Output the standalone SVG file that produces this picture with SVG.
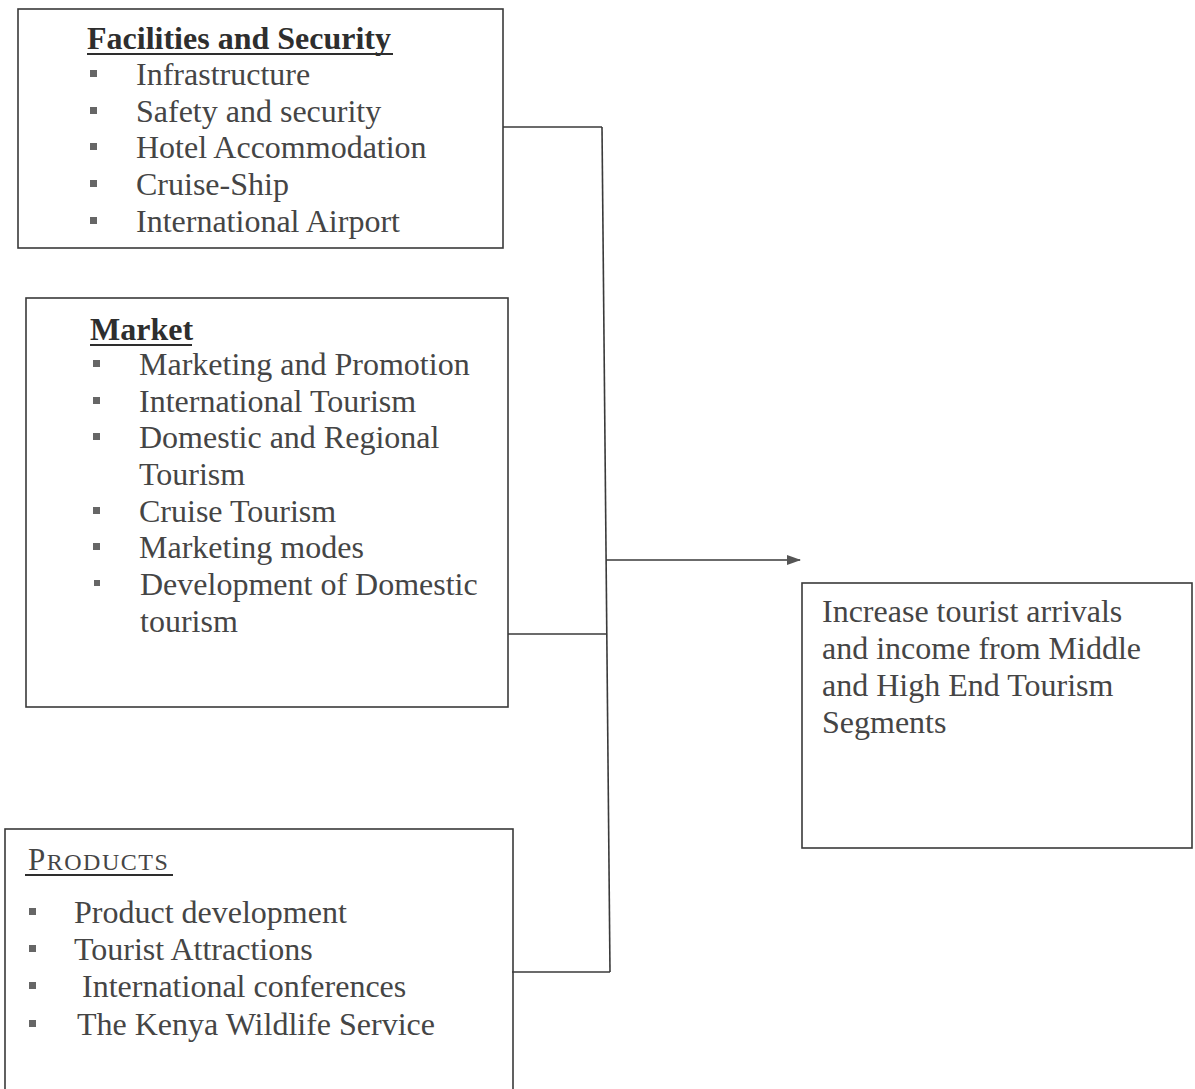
<svg xmlns="http://www.w3.org/2000/svg" width="1195" height="1089" viewBox="0 0 1195 1089">
<defs>
<style>
.box{fill:none;stroke:#3a3a3a;stroke-width:1.6}
.con{fill:none;stroke:#3a3a3a;stroke-width:1.6}
.hd{font-family:"Liberation Serif","Times New Roman",serif;font-size:32px;font-weight:bold;fill:#2e2e2e}
.tx{font-family:"Liberation Serif","Times New Roman",serif;font-size:32px;fill:#454545}
.ul{stroke:#2e2e2e;stroke-width:2}
.bl{fill:#666}
</style>
<marker id="arr" markerWidth="14" markerHeight="10" refX="13" refY="5" orient="auto" markerUnits="userSpaceOnUse">
<path d="M0,0 L14,5 L0,10 Z" fill="#555"/>
</marker>
</defs>
<rect width="1195" height="1089" fill="#ffffff"/>

<g id="connectors">
<line class="con" x1="503" y1="127" x2="602" y2="127"/>
<line class="con" x1="602" y1="127" x2="610" y2="972"/>
<line class="con" x1="508" y1="634" x2="606" y2="634"/>
<line class="con" x1="512" y1="972" x2="610" y2="972"/>
<line class="con" x1="606" y1="560" x2="800" y2="560" marker-end="url(#arr)"/>
</g>

<g id="facilities">
<rect class="box" x="18" y="9" width="485" height="239"/>
<text class="hd" x="87" y="49">Facilities and Security</text>
<line class="ul" x1="87" y1="54" x2="393" y2="54"/>
<rect class="bl" x="90" y="70" width="7" height="7"/>
<text class="tx" x="136" y="85">Infrastructure</text>
<rect class="bl" x="90" y="107" width="7" height="7"/>
<text class="tx" x="136" y="122">Safety and security</text>
<rect class="bl" x="90" y="143" width="7" height="7"/>
<text class="tx" x="136" y="158">Hotel Accommodation</text>
<rect class="bl" x="90" y="180" width="7" height="7"/>
<text class="tx" x="136" y="195">Cruise-Ship</text>
<rect class="bl" x="90" y="217" width="7" height="7"/>
<text class="tx" x="136" y="232">International Airport</text>
</g>

<g id="market">
<rect class="box" x="26" y="298" width="482" height="409"/>
<text class="hd" x="90" y="340">Market</text>
<line class="ul" x1="90" y1="345" x2="192" y2="345"/>
<rect class="bl" x="93" y="360" width="7" height="7"/>
<text class="tx" x="139" y="375">Marketing and Promotion</text>
<rect class="bl" x="93" y="397" width="7" height="7"/>
<text class="tx" x="139" y="412">International Tourism</text>
<rect class="bl" x="93" y="433" width="7" height="7"/>
<text class="tx" x="139" y="448">Domestic and Regional</text>
<text class="tx" x="139" y="485">Tourism</text>
<rect class="bl" x="93" y="507" width="7" height="7"/>
<text class="tx" x="139" y="522">Cruise Tourism</text>
<rect class="bl" x="93" y="543" width="7" height="7"/>
<text class="tx" x="139" y="558">Marketing modes</text>
<rect class="bl" x="94" y="580" width="6" height="6"/>
<text class="tx" x="140" y="595">Development of Domestic</text>
<text class="tx" x="140" y="632">tourism</text>
</g>

<g id="products">
<rect class="box" x="5" y="829" width="508" height="300"/>
<text class="tx" x="28" y="870" letter-spacing="1.5" style="font-size:31px">P<tspan style="font-size:24px">RODUCTS</tspan></text>
<line class="ul" x1="25" y1="875" x2="173" y2="875"/>
<rect class="bl" x="29" y="908" width="7" height="7"/>
<text class="tx" x="74" y="923">Product development</text>
<rect class="bl" x="29" y="945" width="7" height="7"/>
<text class="tx" x="74" y="960">Tourist Attractions</text>
<rect class="bl" x="29" y="982" width="7" height="7"/>
<text class="tx" x="82" y="997">International conferences</text>
<rect class="bl" x="29" y="1020" width="7" height="7"/>
<text class="tx" x="77" y="1035">The Kenya Wildlife Service</text>
</g>

<g id="goal">
<rect class="box" x="802" y="583" width="390" height="265"/>
<text class="tx" x="822" y="622">Increase tourist arrivals</text>
<text class="tx" x="822" y="659">and income from Middle</text>
<text class="tx" x="822" y="696">and High End Tourism</text>
<text class="tx" x="822" y="733">Segments</text>
</g>
</svg>
